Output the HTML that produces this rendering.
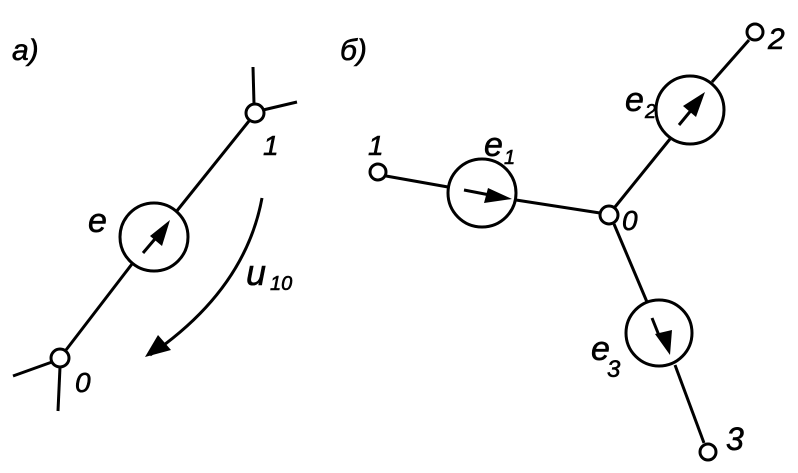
<!DOCTYPE html>
<html><head><style>body{margin:0;background:#fff}svg{display:block}
text{font-family:"Liberation Sans",sans-serif;font-style:italic;fill:#000;stroke:#000;stroke-width:0.6}</style></head><body>
<svg width="798" height="473" viewBox="0 0 798 473" xmlns="http://www.w3.org/2000/svg">
<g stroke="#000" stroke-width="3" fill="none">
<line x1="253" y1="67" x2="254" y2="104"/>
<line x1="263" y1="110" x2="297" y2="102"/>
<line x1="249" y1="121" x2="176" y2="212"/>
<line x1="132" y1="264" x2="66" y2="350"/>
<line x1="13" y1="376" x2="52" y2="362"/>
<line x1="60" y1="367" x2="58" y2="411"/>
<circle cx="255" cy="113" r="9"/>
<circle cx="60" cy="358" r="9"/>
<circle cx="154" cy="237" r="34"/>
<line x1="143" y1="253" x2="160" y2="233"/>
<path d="M262 198 Q245 290 150 355"/>
<line x1="386" y1="176" x2="448" y2="187"/>
<line x1="516" y1="200" x2="600" y2="213"/>
<line x1="615" y1="207" x2="670" y2="139"/>
<line x1="712" y1="82" x2="749" y2="40"/>
<line x1="614" y1="224" x2="647" y2="302"/>
<line x1="675" y1="365" x2="704" y2="443"/>
<circle cx="378" cy="172" r="8"/>
<circle cx="609" cy="215" r="9"/>
<circle cx="755" cy="32" r="8"/>
<circle cx="708" cy="452" r="8"/>
<circle cx="482" cy="193" r="34"/>
<circle cx="690" cy="110" r="34"/>
<circle cx="659" cy="333" r="33"/>
<line x1="464" y1="190" x2="495" y2="196"/>
<line x1="679" y1="125" x2="693" y2="108"/>
<line x1="652" y1="318" x2="660" y2="338"/>
</g>
<g fill="#000">
<polygon points="170,220 150,236 162,246"/>
<polygon points="145,357 158,335 171,350"/>
<polygon points="512,199 488,188 484,203"/>
<polygon points="705,92 683,106 696,117"/>
<polygon points="670,355 655,334 672,330"/>
</g>
<text x="12" y="60" font-size="30">a)</text>
<text x="263" y="155" font-size="28">1</text>
<text x="75" y="392" font-size="28">0</text>
<text x="88" y="232" font-size="34">e</text>
<text x="246" y="285" font-size="36">u</text>
<text x="270" y="290" font-size="20">10</text>
<text x="340" y="60" font-size="30">б)</text>
<text x="368" y="155" font-size="28">1</text>
<text x="484" y="156" font-size="34">e</text>
<text x="504" y="164" font-size="20">1</text>
<text x="622" y="230" font-size="28">0</text>
<text x="625" y="111" font-size="34">e</text>
<text x="645" y="118" font-size="20">2</text>
<text x="768" y="49" font-size="30">2</text>
<text x="591" y="360" font-size="34">e</text>
<text x="607" y="377" font-size="24">3</text>
<text x="726" y="450" font-size="32">3</text>
</svg>
</body></html>
